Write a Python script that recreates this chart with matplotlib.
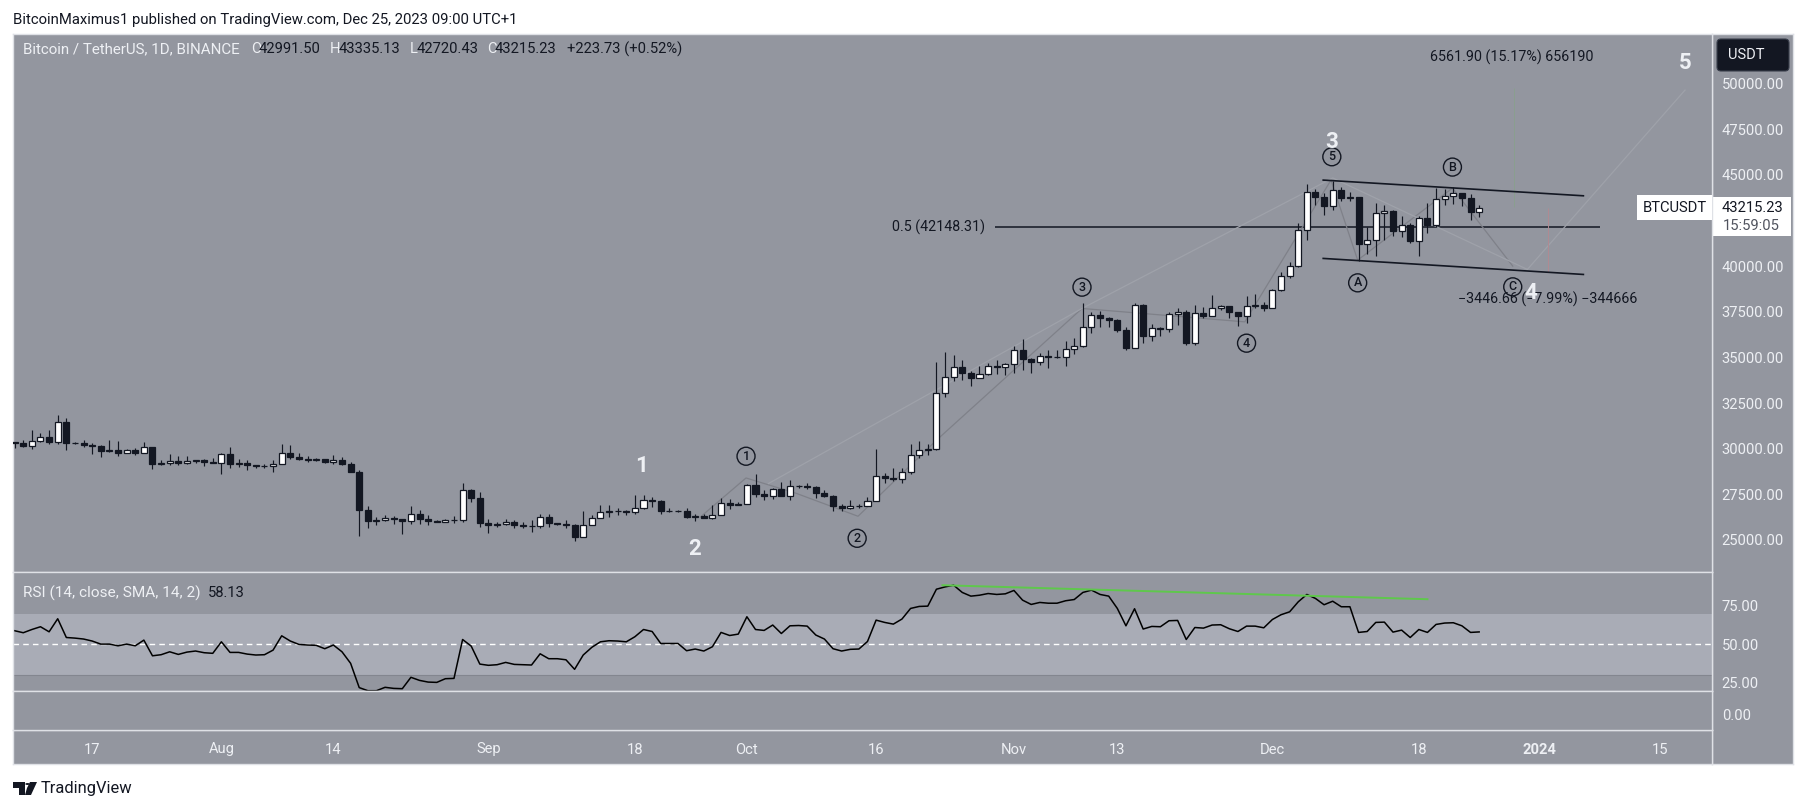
import numpy as np
import pandas as pd
import matplotlib.pyplot as plt
from matplotlib.patches import FancyBboxPatch, Polygon, Circle

closes = [
    30292, 30171, 30414, 30620, 30380, 31455, 30312, 30289, 30231, 30145, 29856, 29913, 29792, 29908, 29790, 30083, 29176, 29228, 29354, 29213, 29315, 29357, 29275, 29230,
    29705, 29186, 29193, 29113, 29042, 29041, 29180, 29765, 29561, 29429, 29397, 29415, 29283, 29408, 29170, 28700, 26623, 26049, 26096, 26189, 26124, 26040, 26431, 26163, 26047, 26004, 26089, 26106, 27727, 27297, 25931,
    25800, 25868, 25969, 25812, 25780, 25753, 26240, 25905, 25895, 25832, 25162, 25840, 26222, 26522, 26600, 26568, 26527, 26760, 27211, 27132, 26567, 26579, 26579, 26256, 26298, 26217, 26352, 27021, 26906, 26962,
    27992, 27494, 27426, 27778, 27412, 27931, 27956, 27917, 27591, 27390, 26875, 26756, 26862, 26852, 27154, 28500, 28395, 28320, 28713, 29669, 29909, 29992, 33069, 33922, 34496, 34151, 33892, 34082, 34525, 34474, 34639,
    35421, 34938, 34732, 35082, 35049, 35037, 35443, 35655, 36693, 37313, 37138, 37054, 36502, 35537, 37880, 36154, 36596, 36585, 37386, 37476, 35813, 37432, 37289, 37720, 37796, 37479, 37254, 37831, 37858, 37712,
    38688, 39476, 40010, 41980, 44080, 43772, 43292, 44180, 43720, 43792, 41243, 41450, 42890, 43023, 41940, 42278, 41374, 42657, 42272, 43668, 43863, 43997, 43739, 42991.5, 43215.23,
]
highs = [
    30380, 30470, 31050, 30870, 31020, 31840, 31690, 30390, 30460, 30340, 30230, 30460, 30450, 30000, 30060, 30360, 30100, 29400, 29700, 29590, 29590, 29410, 29450, 29490,
    29740, 30080, 29450, 29400, 29120, 29170, 29370, 30250, 30200, 29740, 29590, 29470, 29460, 29640, 29520, 29280, 28820, 26850, 26260, 26360, 26300, 26170, 26850, 26630, 26360, 26110, 26170, 26300, 28150, 27770, 27620,
    26170, 25970, 26170, 26120, 25990, 26080, 26450, 26450, 25945, 26080, 25900, 26600, 26390, 26900, 26900, 26780, 26630, 27455, 27490, 27360, 27180, 26740, 26630, 26780, 26450, 26415, 26900, 27300, 27270, 27090,
    28050, 28605, 27730, 27870, 28180, 28310, 28030, 28150, 27980, 27730, 27490, 26960, 27180, 26997, 27330, 30010, 28680, 28970, 28950, 30250, 30415, 30250, 34745, 35290, 35130, 34850, 34270, 34520, 34725, 34850, 34710,
    35620, 35990, 34945, 35270, 35400, 35400, 35895, 36095, 37960, 37505, 37540, 37230, 37100, 36680, 37960, 37925, 36830, 36680, 37505, 37725, 37595, 37870, 37780, 38420, 37870, 37830, 37505, 38360, 38470, 38050,
    38730, 39700, 40245, 42380, 44500, 44210, 43990, 44690, 44320, 44080, 43808, 42160, 43440, 43350, 43080, 42750, 42380, 42750, 43480, 44265, 44210, 44360, 43990, 43955, 43335.13,
]
lows = [
    30050, 30100, 29980, 30360, 30285, 30250, 29920, 30260, 30100, 29700, 29540, 29830, 29580, 29770, 29670, 29770, 28900, 29090, 29100, 29130, 29150, 29230, 29030, 29220,
    28620, 28920, 29000, 28820, 28950, 28960, 28730, 29160, 29430, 29370, 29260, 29350, 29200, 29190, 29100, 28700, 25220, 25640, 25800, 26050, 25870, 25320, 25900, 25900, 25800, 25970, 25970, 25930, 25990, 27090, 25700,
    25390, 25720, 25800, 25680, 25630, 25440, 25680, 25700, 25800, 25630, 24950, 25170, 25850, 26230, 26270, 26380, 26380, 26450, 26720, 26810, 26450, 26520, 26520, 26180, 26050, 26180, 26140, 26360, 26720, 26900,
    26960, 27330, 27180, 27250, 27400, 27180, 27850, 27820, 27290, 27330, 26595, 26595, 26720, 26780, 26870, 27150, 28130, 28240, 28130, 28640, 29500, 29665, 29920, 32810, 33720, 33760, 33430, 33870, 34030, 34120, 34030,
    34160, 34305, 34160, 34580, 34450, 34950, 34520, 35180, 35585, 36355, 36680, 36690, 36410, 35400, 35500, 35770, 35910, 36170, 36410, 36775, 35675, 35680, 37150, 37250, 37600, 37190, 36740, 36900, 37700, 37560,
    37690, 38650, 39330, 39970, 41430, 43350, 42800, 43080, 43590, 43570, 40300, 40660, 40560, 41430, 41650, 41620, 41290, 40550, 41835, 42160, 43350, 43405, 43300, 42530, 42720.43,
]
rsi = [
    58.9, 57.6, 59.7, 61.5, 58.2, 66.7, 54.5, 54.1, 53.5, 52.2, 50.2, 50.2, 49.1, 50.2, 49.1, 52.8, 42.6, 43.3, 45.2, 43.5, 45.0, 45.7, 44.6, 44.2, 51.7, 44.8,
    44.8, 43.7, 43.1, 43.3, 46.3, 55.6, 52.2, 50.0, 49.6, 49.4, 47.2, 49.6, 45.2, 37.7, 21.9, 19.9, 19.9, 22.1, 21.4, 21.2, 28.6, 26.6, 25.5, 25.3, 27.7, 27.9,
    53.2, 48.9, 37.2, 36.4, 36.8, 38.3, 37.0, 36.8, 36.6, 43.9, 40.7, 40.7, 40.0, 33.8, 43.1, 48.1, 51.7, 52.4, 52.2, 51.7, 55.0, 59.7, 58.4, 50.6, 50.6, 50.6,
    45.9, 47.0, 45.7, 48.5, 57.8, 55.8, 56.7, 68.0, 59.7, 59.1, 62.6, 57.1, 62.1, 62.3, 61.9, 56.1, 53.5, 47.2, 45.7, 46.8, 47.0, 51.9, 65.8, 64.3, 63.2, 66.5,
    73.4, 74.7, 74.9, 85.9, 87.4, 88.5, 83.8, 81.4, 82.0, 83.1, 82.5, 82.9, 85.1, 78.8, 76.0, 77.3, 76.8, 76.8, 78.4, 79.2, 83.8, 85.3, 82.5, 81.4, 73.4, 62.1,
    73.2, 60.0, 61.7, 61.5, 65.4, 65.6, 53.2, 61.0, 60.6, 62.6, 62.8, 60.2, 58.4, 61.9, 61.9, 60.8, 66.2, 69.3, 71.2, 77.7, 82.5, 79.9, 75.8, 78.1, 74.5, 74.5,
    57.8, 58.4, 64.3, 64.5, 58.0, 59.3, 54.5, 59.7, 57.8, 63.0, 63.9, 64.1, 62.1, 57.8, 58.13,
]

cfg = {
    "width": 1807,
    "height": 809,
    "pane": "#93969f",
    "band": "#a9acb6",
    "dark": "#131722",
    "sep": "#dfe1e6",
    "light": "#eef0f4",
    "xlim": (-0.19, 197.03),
    "price_ylim": (23246, 52725),
    "rsi_ylim": (19.7, 97.1),
    "ticks": {9: "17", 24: "Aug", 37: "14", 55: "Sep", 72: "18", 85: "Oct", 100: "16", 116: "Nov", 128: "13", 146: "Dec", 163: "18", 177: "2024", 191: "15"},
    "price_ticks": [25000, 27500, 30000, 32500, 35000, 37500, 40000, 45000, 47500, 50000],
}

plt.rcParams["font.family"] = "Roboto"


class ChartPlotter():
    def __init__(self, cfg, closes, highs, lows, rsi):
        self.cfg = cfg
        self.df = pd.DataFrame({"close": closes, "high": highs, "low": lows, "rsi": rsi})
        self.df["open"] = self.df["close"].shift(1).fillna(30347)
        self.df["day"] = np.arange(len(self.df))

    def pane(self, left, top, right, bottom):
        w, h = self.cfg["width"], self.cfg["height"]
        ax = plt.axes([left / w, 1 - bottom / h, (right - left) / w, (bottom - top) / h], facecolor=self.cfg["pane"])
        for spine in ax.spines.values():
            spine.set_color(self.cfg["sep"])
            spine.set_linewidth(1.0)
        return ax

    def plot_side(self):
        dark = self.cfg["dark"]
        ax = self.pane(1712, 34, 1793, 764)
        plt.xlim(1712, 1793)
        plt.ylim(764, 34)
        plt.xticks([])
        plt.yticks([])
        ax.add_patch(FancyBboxPatch((1719, 41), 68, 28, boxstyle="round,pad=2,rounding_size=4", facecolor=dark, edgecolor="#3a3f4c", linewidth=0.8))
        plt.text(1728, 55, "USDT", color=self.cfg["light"], fontsize=10.5, va="center")
        ax.add_patch(plt.Rectangle((1713, 197), 78, 39, facecolor="white", edgecolor="none", zorder=3))
        plt.text(1722, 208, "43215.23", color=dark, fontsize=10.6, va="center", zorder=4)
        plt.text(1723, 226, "15:59:05", color="#50535e", fontsize=10.6, va="center", zorder=4)

    def plot_time(self):
        self.pane(13, 730, 1712, 764)
        plt.xticks([])
        plt.yticks([])

    def plot_candles(self):
        dark = self.cfg["dark"]
        self.pane(13, 34, 1712, 572)
        df = self.df
        colors = np.where(df["close"] >= df["open"], "white", dark)
        plt.hlines(42148.31, 113.8, 184.0, color=dark, linewidth=1.1)
        plt.plot([79.6, 84.9, 90.8, 97.9, 107.0, 123.9, 142.8, 152.8, 155.9, 166.9, 173.9],
                 [26261, 28399, 27544, 26300, 30466, 37686, 36952, 44720, 40334, 44282, 40006], color="#7f8189", linewidth=0.9)
        plt.plot([87.5, 123.9, 153.0, 175.6, 193.9], [28092, 37686, 44836, 39825, 49652], color="#9fa2aa", linewidth=0.9)
        plt.vlines(174, 43257, 49748, color="#8a9f8f", linewidth=0.7)
        plt.vlines(178, 39693, 43185, color="#b08a92", linewidth=0.7)
        plt.vlines(df["day"], df["low"], df["high"], color=dark, linewidth=0.85)
        plt.bar(df["day"], (df["close"] - df["open"]).abs(), bottom=df[["open", "close"]].min(axis=1), width=0.7, color=colors, edgecolor=dark, linewidth=0.9, zorder=3)
        plt.plot([151.9, 182.1], [44720, 43860], color=dark, linewidth=1.2, zorder=4)
        plt.plot([151.9, 182.1], [40428, 39550], color=dark, linewidth=1.2, zorder=4)
        plt.xlim(*self.cfg["xlim"])
        plt.ylim(*self.cfg["price_ylim"])
        plt.xticks([])
        plt.yticks(self.cfg["price_ticks"], [f"{v}.00" for v in self.cfg["price_ticks"]])
        plt.tick_params(axis="y", right=True, left=False, labelright=True, labelleft=False, length=0, pad=7, labelsize=10.6, labelcolor=self.cfg["light"])

        for day, price, label in [(84.9, 29589, "1"), (97.8, 25093, "2"), (123.9, 38854, "3"), (143.0, 35784, "4"), (152.9, 45998, "5"), (155.9, 39090, "A"), (166.9, 45433, "B"), (173.9, 38871, "C")]:
            plt.text(day, price, label, color=dark, fontsize=9, fontweight="medium", ha="center", va="center", zorder=5, bbox=dict(boxstyle="circle,pad=0.2", facecolor="none", edgecolor=dark, linewidth=1.0))
        for day, price, label in [(72.8, 29041, "1"), (78.9, 24490, "2"), (152.9, 46804, "3"), (176.0, 38525, "4"), (193.9, 51135, "5")]:
            plt.text(day, price, label, color=self.cfg["light"], fontsize=16, fontweight="bold", ha="center", va="center", zorder=6)

        plt.text(112.6, 42148, "0.5 (42148.31)", color=dark, fontsize=10.3, ha="right", va="center")
        plt.text(164.3, 51425, "6561.90 (15.17%) 656190", color=dark, fontsize=10.3, va="center")
        plt.text(167.6, 38197, "\u22123446.66 (\u22127.99%) \u2212344666", color=dark, fontsize=10.3, va="center", zorder=5)
        plt.text(192.7, 43215, "BTCUSDT", color=dark, fontsize=10.6, ha="center", va="center", zorder=5, bbox=dict(boxstyle="square,pad=0.35", facecolor="white", edgecolor="none"))
        plt.text(0.006, 0.972, "Bitcoin / TetherUS, 1D, BINANCE", color=self.cfg["light"], fontsize=10.9, va="center", transform=plt.gca().transAxes)
        for left, label, color in [(251, "O", self.cfg["light"]), (259, "42991.50", dark), (330, "H", self.cfg["light"]), (339, "43335.13", dark),
                                   (410, "L", self.cfg["light"]), (417, "42720.43", dark), (487, "C", self.cfg["light"]), (495, "43215.23", dark), (567, "+223.73 (+0.52%)", dark)]:
            plt.text((left - 13) / 1699, 0.972, label, color=color, fontsize=10.6, va="center", transform=plt.gca().transAxes)

    def plot_rsi(self):
        dark = self.cfg["dark"]
        self.pane(13, 572, 1712, 691)
        plt.axhspan(30, 70, color=self.cfg["band"], linewidth=0)
        plt.axhline(30, color="#83868f", linewidth=0.8)
        plt.axhline(50, color="white", linewidth=1.0, linestyle=(0, (4, 3)))
        plt.plot(self.df["day"], self.df["rsi"], color="black", linewidth=1.1)
        plt.plot([107.7, 164.0], [88.5, 79.4], color="#5fc84c", linewidth=1.4)
        plt.xlim(*self.cfg["xlim"])
        plt.ylim(*self.cfg["rsi_ylim"])
        plt.xticks([])
        plt.yticks([25, 50, 75], ["25.00", "50.00", "75.00"])
        plt.tick_params(axis="y", right=True, left=False, labelright=True, labelleft=False, length=0, pad=7, labelsize=10.6, labelcolor=self.cfg["light"])
        plt.text(0.006, 0.82, "RSI (14, close, SMA, 14, 2)", color=self.cfg["light"], fontsize=11.1, va="center", transform=plt.gca().transAxes)
        plt.text(0.1148, 0.82, "58.13", color=dark, fontsize=10.6, va="center", transform=plt.gca().transAxes)

    def plot_low(self):
        self.pane(13, 691, 1712, 730)
        plt.xlim(*self.cfg["xlim"])
        plt.ylim(-16, 23)
        plt.xticks(list(self.cfg["ticks"].keys()), list(self.cfg["ticks"].values()))
        plt.yticks([0], ["0.00"])
        plt.tick_params(axis="x", length=0, pad=9, labelsize=10.6, labelcolor=self.cfg["light"])
        plt.tick_params(axis="y", right=True, left=False, labelright=True, labelleft=False, length=0, pad=7, labelsize=10.6, labelcolor=self.cfg["light"])
        for label in plt.gca().get_xticklabels():
            if label.get_text() == "2024":
                label.set_fontweight("bold")

    def plot_logo(self):
        w, h = self.cfg["width"], self.cfg["height"]
        dark = self.cfg["dark"]
        fig = plt.gcf()
        for points in [[(13, 782), (25, 782), (25, 795), (19, 795), (19, 788), (13, 788)], [(31, 795), (37, 782), (30, 782), (27, 788), (25, 795)]]:
            fig.add_artist(Polygon([(x / w, 1 - y / h) for x, y in points], closed=True, facecolor=dark, edgecolor="none", transform=fig.transFigure))
        fig.add_artist(Circle((27.5 / w, 1 - 784 / h), 2.2 / w, facecolor=dark, edgecolor="none", transform=fig.transFigure))
        plt.figtext(41 / w, 1 - 788 / h, "TradingView", color=dark, fontsize=11.9, va="center")
        plt.figtext(13 / w, 1 - 20 / h, "BitcoinMaximus1 published on TradingView.com, Dec 25, 2023 09:00 UTC+1", color=dark, fontsize=10.7, va="center")

    def plot(self):
        plt.figure(figsize=(self.cfg["width"] / 100, self.cfg["height"] / 100), dpi=100, facecolor="white")
        self.plot_side()
        self.plot_time()
        self.plot_candles()
        self.plot_rsi()
        self.plot_low()
        self.plot_logo()
        plt.savefig("out.png", dpi=100)
        plt.close()


plotter = ChartPlotter(cfg, closes, highs, lows, rsi)
plotter.plot()
